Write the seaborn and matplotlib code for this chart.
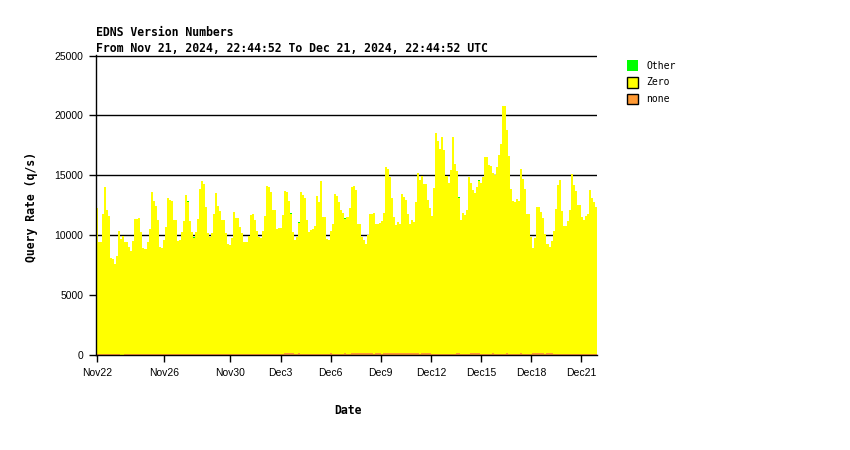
import numpy as np
import pandas as pd
import matplotlib
matplotlib.use("Agg")
import matplotlib.pyplot as plt
from matplotlib.patches import Patch
import seaborn as sns

# EDNS version query rate (q/s), one value per ~3h bin, Nov 21 22:44 -> Dec 21 22:44 UTC
zero_qps = [
    12220, 9360, 9360, 11750, 14000, 12080, 11580, 8080, 7970, 7580,
    8250, 10330, 9670, 9920, 9360, 9360, 9000, 8670, 9440, 11330,
    11330, 11420, 10200, 8920, 8830, 9360, 10500, 13580, 12830, 12420,
    11250, 9000, 8920, 9580, 10640, 13080, 12890, 12830, 11250, 11250,
    9440, 9580, 10250, 11110, 13330, 12690,
    11170, 10250, 9750, 10250, 11330, 13830, 14500, 14250, 12330, 10170,
    9800, 10170, 11750, 13500, 12420, 11950, 11250, 11250, 10170, 9250,
    9170, 9720, 11920, 11420, 11420, 10670, 10170, 9360, 9360, 9850,
    11670, 11750, 11250, 10330, 9830, 9720, 10330, 11580, 14080, 14000,
    13580, 12080, 12080, 10500, 10580, 10580, 11670, 13500, 13420, 12670,
    11580,
    10080, 9530, 9830, 10860, 13580, 13330, 13080, 11250, 10200, 10420,
    10500, 10750, 13250, 12750, 14500, 11500, 11500, 9670, 9530, 10200,
    10920, 13360, 13200, 12750, 12080, 11830, 11170, 11500, 12250, 13830,
    13920, 13580, 10750, 10750, 9670, 9420, 9080, 9830, 11580, 11580,
    11830, 10750, 10750, 10830, 11170, 11670, 15500, 15330, 14670, 12920,
    11330, 10670, 10920, 10750, 13250, 13000, 12750, 11580, 10750, 11080,
    10920, 12580, 15000, 14580, 14750, 14080, 14080, 12750, 12080, 11580,
    13920, 18500, 17830, 17170, 18170, 17080, 14920, 14330, 15420, 18170,
    15920, 15170, 12920, 11250, 11830, 11670, 12080, 14830, 14170, 13580,
    13330, 13830, 14330, 14330, 14830, 16500, 16500, 15830, 15750, 15000,
    15000, 15670, 16670, 17580, 20750, 20750, 18580, 16580, 13830, 12830,
    12750, 13000, 12830, 15330, 14670, 13830, 11750, 11750, 9830, 8750,
    9580, 12170, 12170, 11750, 11250, 10080, 9080, 8830, 9330, 10330,
    12170, 14170, 14580, 12000, 10750, 10750, 11170, 12080, 15080, 14170,
    13670, 12500, 12500, 11500, 11250, 11580, 11750, 13750, 13080, 12750,
    12330,
]

none_qps = [
    50, 50, 50, 50, 50, 50, 50, 50, 50, 50, 50, 50, 0, 0, 50, 50, 50, 50, 50, 50,
    50, 50, 50, 50, 50, 50, 50, 50, 50, 50, 50, 50, 50, 50, 50, 50, 50, 50, 50, 50,
    50, 50, 50, 50, 50, 50, 50, 50, 50, 50, 50, 50, 50, 50, 50, 50, 50, 50, 50, 50,
    50, 50, 50, 50, 50, 50, 50, 50, 50, 50, 50, 50, 50, 50, 50, 50, 50, 50, 50, 50,
    50, 50, 50, 50, 50, 50, 50, 50, 50, 50, 50, 50, 50, 170, 170, 170, 170, 170, 50, 50,
    170, 50, 50, 50, 50, 50, 50, 50, 50, 50, 50, 50, 50, 50, 50, 50, 170, 50, 50, 50,
    50, 50, 50, 170, 50, 50, 170, 170, 170, 170, 170, 170, 170, 170, 170, 170, 170, 50, 170, 170,
    170, 50, 170, 170, 170, 170, 170, 170, 170, 170, 170, 170, 170, 170, 170, 170, 170, 170, 170, 170,
    50, 170, 170, 170, 170, 170, 50, 50, 50, 50, 50, 50, 50, 50, 50, 50, 50, 50, 170, 170,
    50, 50, 50, 50, 50, 170, 170, 170, 170, 170, 50, 50, 50, 50, 50, 50, 170, 50, 50, 50,
    50, 50, 50, 170, 50, 50, 50, 50, 50, 50, 170, 50, 50, 50, 50, 50, 170, 170, 170, 170,
    170, 170, 50, 170, 170, 170, 50, 50, 50, 50, 50, 50, 50, 50, 50, 50, 50, 50, 50, 50,
    50, 50, 50, 50, 50, 50, 50, 50,
]

# "Other" only shows up as a few thin blips
other_bins = [45, 48, 96, 100, 123, 179, 189]
other_qps = [80, 70, 80, 80, 90, 80, 80]

versions = ["Other", "Zero", "none"]
colors = {"Other": "#00ff00", "Zero": "#ffff00", "none": "#ff9933"}

# day ticks, counted from Nov22 00:00
tick_days = [0, 4, 8, 11, 14, 17, 20, 23, 26, 29]
tick_labels = ["Nov22", "Nov26", "Nov30", "Dec3", "Dec6", "Dec9",
               "Dec12", "Dec15", "Dec18", "Dec21"]
start_offset = (1 * 3600 + 15 * 60 + 8) / 86400.0  # 22:44:52 -> midnight

n = len(zero_qps)
edges = np.linspace(0, 30, n + 1)
centers = (edges[:-1] + edges[1:]) / 2
other_full = np.zeros(n)
other_full[other_bins] = other_qps

df = pd.concat([
    pd.DataFrame({"t": centers, "qps": other_full, "version": "Other"}),
    pd.DataFrame({"t": centers, "qps": zero_qps, "version": "Zero"}),
    pd.DataFrame({"t": centers, "qps": none_qps, "version": "none"}),
], ignore_index=True)

sns.set_theme(style="ticks")
plt.rcParams["font.family"] = ["Liberation Sans", "DejaVu Sans"]
plt.rcParams["text.color"] = "black"

fig = plt.figure(figsize=(8.5, 4.5), dpi=100)
ax = fig.add_axes([96 / 850, 95 / 450, 501 / 850, 300 / 450])

sns.histplot(data=df, x="t", weights="qps", hue="version", hue_order=versions,
             multiple="stack", bins=n, binrange=(0, 30), element="step",
             fill=True, palette=colors, alpha=1, linewidth=0, legend=False,
             ax=ax)

ax.set_xlim(0, 30)
ax.set_ylim(0, 25050)
ax.set_yticks([0, 5000, 10000, 15000, 20000, 25000])
ax.set_xticks([start_offset + d for d in tick_days])
ax.set_xticklabels(tick_labels)
ax.set_xlabel("")
ax.set_ylabel("")

ax.grid(axis="y", color="black", linewidth=1)
ax.grid(axis="x", visible=False)
ax.set_axisbelow(True)
sns.despine(ax=ax)
for side in ["left", "bottom"]:
    ax.spines[side].set_color("black")
    ax.spines[side].set_linewidth(1)
ax.tick_params(direction="out", length=5, width=1, color="black",
               labelsize=7.5, labelcolor="black", pad=4)

mono = "DejaVu Sans Mono"
fig.text(96 / 850, 1 - 36 / 450, "EDNS Version Numbers", family=mono,
         weight="bold", size=8.3, va="baseline", ha="left")
fig.text(96 / 850, 1 - 52 / 450,
         "From Nov 21, 2024, 22:44:52 To Dec 21, 2024, 22:44:52 UTC",
         family=mono, weight="bold", size=8.3, va="baseline", ha="left")
fig.text(32 / 850, 1 - 207 / 450, "Query Rate (q/s)", family=mono,
         weight="bold", size=8.3, rotation=90, ha="center", va="center")
fig.text(348 / 850, 1 - 411 / 450, "Date", family=mono, weight="bold",
         size=8.3, ha="center", va="center")

handles = [
    Patch(facecolor=colors["Other"], edgecolor="none"),
    Patch(facecolor=colors["Zero"], edgecolor="black", linewidth=1),
    Patch(facecolor=colors["none"], edgecolor="black", linewidth=1),
]
fig.legend(handles, versions, loc="upper left",
           bbox_to_anchor=(627 / 850, 1 - 60 / 450), frameon=False,
           borderpad=0, borderaxespad=0, handlelength=1.1, handleheight=1.3,
           handletextpad=0.9, labelspacing=0.65,
           prop={"family": mono, "size": 7})

fig.savefig("out.png", dpi=100)
